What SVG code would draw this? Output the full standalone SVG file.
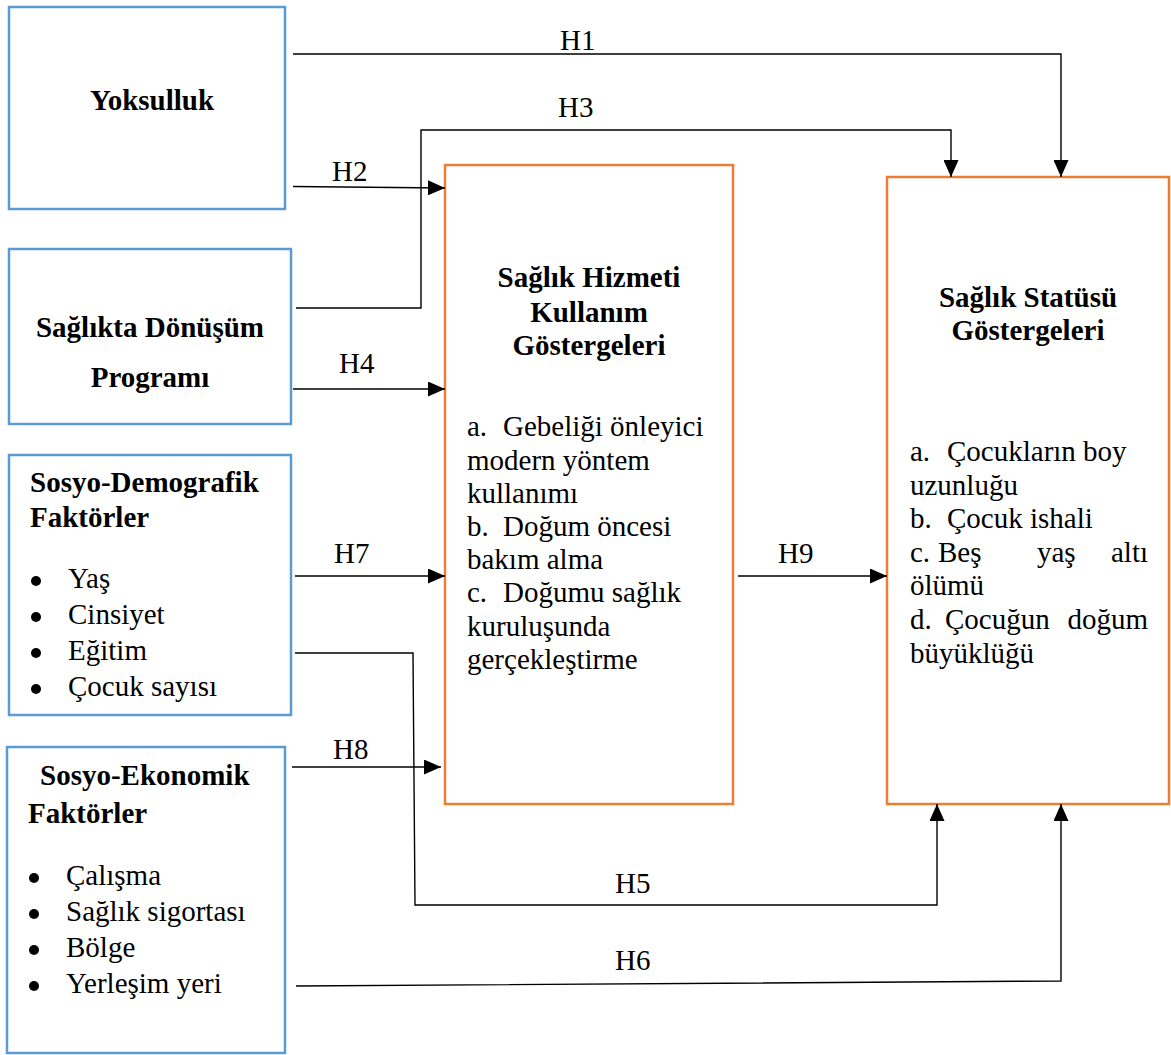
<svg xmlns="http://www.w3.org/2000/svg" width="1171" height="1055" viewBox="0 0 1171 1055" font-family="'Liberation Serif', 'DejaVu Serif', serif">
<style>
text{font-family:'Liberation Serif','DejaVu Serif',serif;font-size:29px;fill:#000}
.b{font-weight:bold}
.m{text-anchor:middle}
.blue{fill:#fff;stroke:#5B9BD5;stroke-width:2.5}
.orange{fill:#fff;stroke:#ED7D31;stroke-width:2.5}
.c{fill:none;stroke:#000;stroke-width:1.4}
.a{marker-end:url(#arr)}
.dot{fill:#000}
</style>
<defs>
<marker id="arr" markerUnits="userSpaceOnUse" markerWidth="17" markerHeight="15" refX="17" refY="7.5" orient="auto">
<path d="M0,0 L17,7.5 L0,15 z" fill="#000"/>
</marker>
</defs>
<rect width="1171" height="1055" fill="#fff"/>
<g id="yoksulluk">
<rect class="blue" x="9" y="7" width="276" height="202"/>
<text class="b m" x="152" y="110">Yoksulluk</text>
</g>
<g id="sdp">
<rect class="blue" x="9" y="249" width="282" height="175"/>
<text class="b m" x="150" y="337">Sağlıkta Dönüşüm</text>
<text class="b m" x="150" y="387">Programı</text>
</g>
<g id="sosyodemografik">
<rect class="blue" x="9" y="455" width="282" height="260"/>
<text class="b" x="30" y="492">Sosyo-Demografik</text>
<text class="b" x="30" y="527">Faktörler</text>
<circle class="dot" cx="36" cy="581" r="5"/><text x="68" y="588">Yaş</text>
<circle class="dot" cx="36" cy="617" r="5"/><text x="68" y="624">Cinsiyet</text>
<circle class="dot" cx="36" cy="653" r="5"/><text x="68" y="660">Eğitim</text>
<circle class="dot" cx="36" cy="689" r="5"/><text x="68" y="696">Çocuk sayısı</text>
</g>
<g id="sosyoekonomik">
<rect class="blue" x="7" y="747" width="278" height="306"/>
<text class="b" x="40" y="785">Sosyo-Ekonomik</text>
<text class="b" x="28" y="823">Faktörler</text>
<circle class="dot" cx="34" cy="878" r="5"/><text x="66" y="885">Çalışma</text>
<circle class="dot" cx="34" cy="914" r="5"/><text x="66" y="921">Sağlık sigortası</text>
<circle class="dot" cx="34" cy="950" r="5"/><text x="66" y="957">Bölge</text>
<circle class="dot" cx="34" cy="986" r="5"/><text x="66" y="993">Yerleşim yeri</text>
</g>
<g id="hizmet">
<rect class="orange" x="445" y="165" width="288" height="639"/>
<text class="b m" x="589" y="287">Sağlık Hizmeti</text>
<text class="b m" x="589" y="322">Kullanım</text>
<text class="b m" x="589" y="355">Göstergeleri</text>
<text x="467" y="436">a.</text><text x="503" y="436">Gebeliği önleyici</text>
<text x="467" y="470">modern yöntem</text>
<text x="467" y="503">kullanımı</text>
<text x="467" y="536">b.</text><text x="503" y="536">Doğum öncesi</text>
<text x="467" y="569">bakım alma</text>
<text x="467" y="602">c.</text><text x="503" y="602">Doğumu sağlık</text>
<text x="467" y="636">kuruluşunda</text>
<text x="467" y="669">gerçekleştirme</text>
</g>
<g id="statu">
<rect class="orange" x="887" y="177" width="282" height="627"/>
<text class="b m" x="1028" y="307">Sağlık Statüsü</text>
<text class="b m" x="1028" y="340">Göstergeleri</text>
<text x="910" y="461">a.</text><text x="947" y="461">Çocukların boy</text>
<text x="910" y="495">uzunluğu</text>
<text x="910" y="528">b.</text><text x="947" y="528">Çocuk ishali</text>
<text x="910" y="562">c.</text><text x="938" y="562">Beş</text><text x="1037" y="562">yaş</text><text x="1148" y="562" style="text-anchor:end">altı</text>
<text x="910" y="595">ölümü</text>
<text x="910" y="629">d.</text><text x="945" y="629">Çocuğun</text><text x="1148" y="629" style="text-anchor:end">doğum</text>
<text x="910" y="663">büyüklüğü</text>
</g>
<g id="connectors">
<path class="c a" d="M293,54 H1061 V177"/>
<path class="c a" d="M293,186.5 L445,188"/>
<path class="c a" d="M296,308 H421 V130 H951 V177"/>
<path class="c a" d="M293,389 H445"/>
<path class="c a" d="M295,576 H445"/>
<path class="c a" d="M295,653 H413 L415,905 H937 V804"/>
<path class="c a" d="M292,767 H441"/>
<path class="c a" d="M296,986 L1061,981 V804"/>
<path class="c a" d="M738,576 H887"/>
</g>
<g id="labels">
<text x="560" y="50">H1</text>
<text x="332" y="181">H2</text>
<text x="558" y="117">H3</text>
<text x="339" y="373">H4</text>
<text x="615" y="893">H5</text>
<text x="615" y="970">H6</text>
<text x="334" y="563">H7</text>
<text x="333" y="759">H8</text>
<text x="778" y="563">H9</text>
</g>
</svg>
